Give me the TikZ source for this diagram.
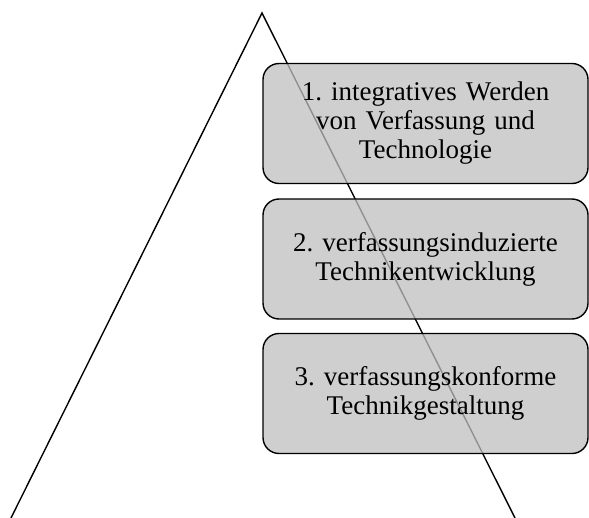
\documentclass[tikz,border=0pt]{standalone}
\usepackage{fontspec}
\setmainfont{Liberation Serif}
\frenchspacing
\tikzset{
  stage/.style={draw, line width=1.4pt, rounded corners=16pt, fill=black!25,
    fill opacity=0.75, text opacity=1, minimum width=325pt, minimum height=120pt,
    text width=315pt, align=center, inner sep=0pt,
    font=\fontsize{27}{29}\selectfont}
}
\begin{document}
\begin{tikzpicture}[x=1pt,y=-1pt]
      \useasboundingbox (0,0) rectangle (589,518);
      \coordinate (apex) at (262,13);
      \coordinate (baseL) at (11,518);
      \coordinate (baseR) at (515,518);
      \draw [line width=1.4pt] (baseL) -- (apex) -- (baseR);
      \node [stage] (stage1) at (425.5,123.5) {1. integratives Werden\\ von Verfassung und\\ Technologie};
      \node [stage] (stage2) at (425.5,259) {2. verfassungsinduzierte\\ Technikentwicklung};
      \node [stage] (stage3) at (425.5,393.5) {3. verfassungskonforme\\ Technikgestaltung};
    \end{tikzpicture}
\end{document}
